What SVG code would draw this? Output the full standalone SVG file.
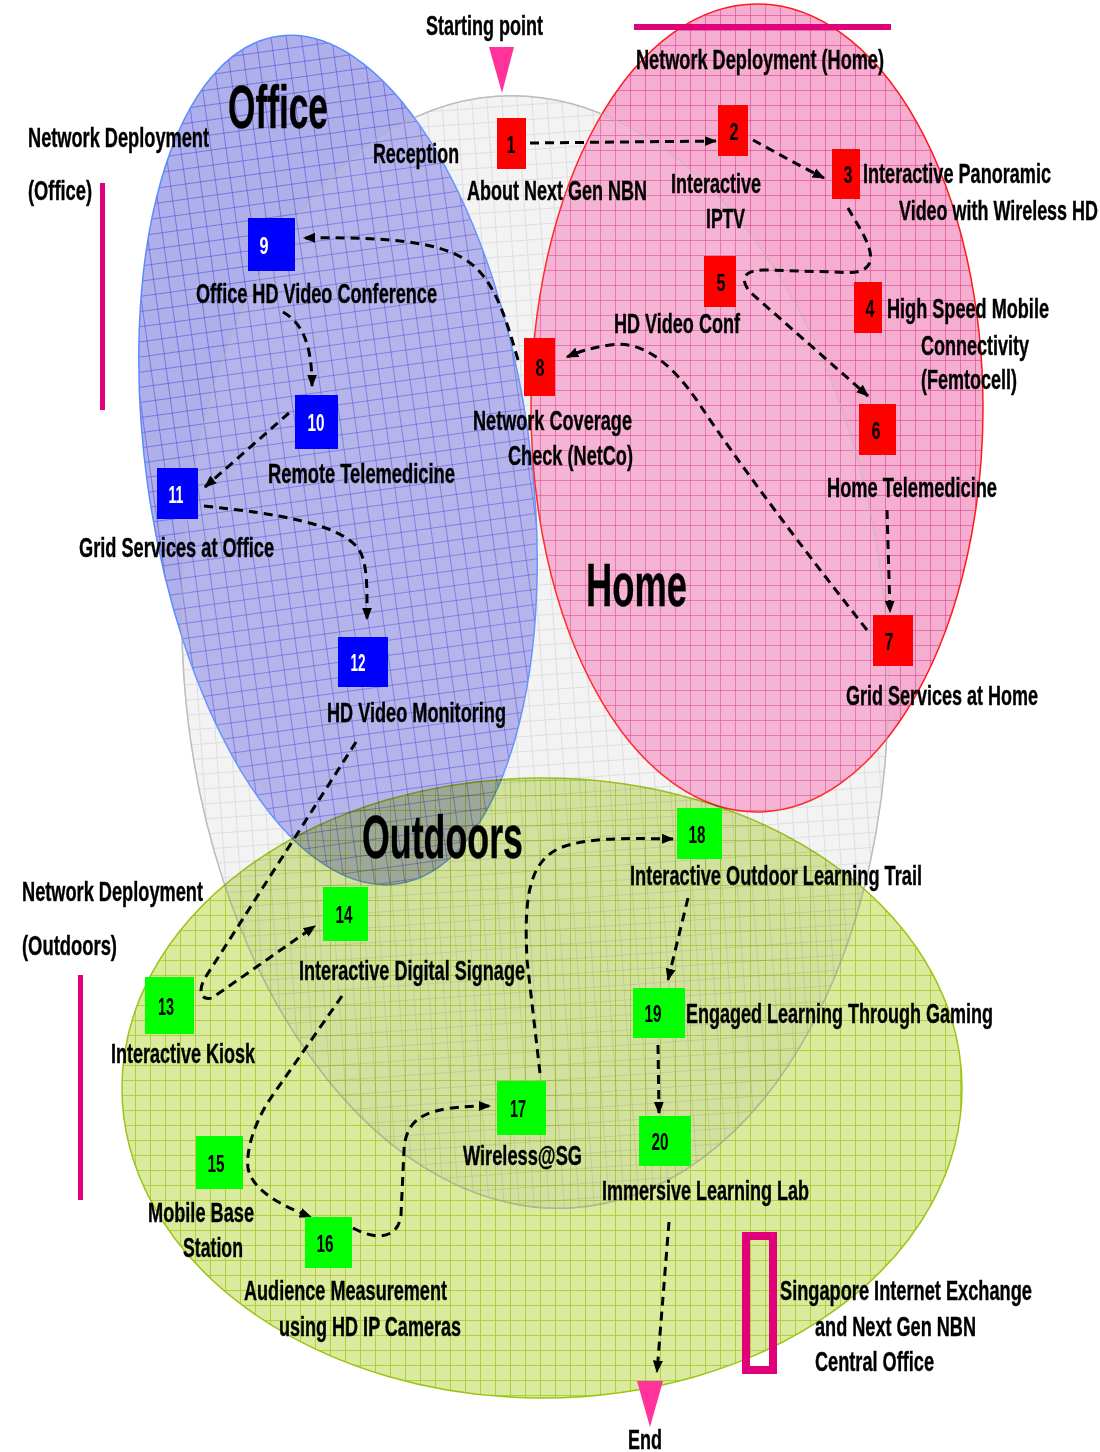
<svg xmlns="http://www.w3.org/2000/svg" width="1100" height="1452" viewBox="0 0 1100 1452">
<style>
.t{font-family:"Liberation Sans",Arial,sans-serif;font-weight:bold;font-size:28px;fill:#000;stroke:#000;stroke-width:0.4}
.big{font-size:62px}
.n{font-family:"Liberation Sans",Arial,sans-serif;font-weight:bold;font-size:24px;text-anchor:middle}
.nb{fill:#000}.nw{fill:#fff}
.red{fill:#ff0000}.blue{fill:#0000ff}.green{fill:#00ff00}
.c{fill:none;stroke:#000;stroke-width:3;stroke-dasharray:9 6;marker-end:url(#ah)}
.pk{fill:#e0007a}
.tri{fill:#ff3399}
</style>
<defs>
<pattern id="pGray" width="15" height="15" patternUnits="userSpaceOnUse"><rect width="15" height="15" fill="#f2f2f2"/><path d="M0 0.5H15M0.5 0V15" stroke="#dcdcdc" stroke-width="1"/></pattern>
<pattern id="pBlue" width="15" height="15" patternUnits="userSpaceOnUse"><rect width="15" height="15" fill="#afafeb"/><path d="M0 0.5H15M0.5 0V15" stroke="#4848d0" stroke-width="1" stroke-opacity="0.55"/></pattern>
<pattern id="pPink" width="15" height="15" patternUnits="userSpaceOnUse"><rect width="15" height="15" fill="#f5aed0"/><path d="M0 0.5H15M0.5 0V15" stroke="#e04090" stroke-width="1" stroke-opacity="0.6"/></pattern>
<pattern id="pGreen" width="15" height="15" patternUnits="userSpaceOnUse"><rect width="15" height="15" fill="#dbeb9e"/><path d="M0 0.5H15M0.5 0V15" stroke="#a8cc30" stroke-width="1" stroke-opacity="0.85"/></pattern>
<marker id="ah" viewBox="0 0 10 10" refX="9" refY="5" markerWidth="4.2" markerHeight="4.2" orient="auto"><path d="M0,1 L10,5 L0,9 z" fill="#000"/></marker>
</defs>
<rect width="1100" height="1452" fill="#fff"/>
<g id="zones">
<ellipse id="zone-reception" cx="535" cy="652" rx="352" ry="557" transform="rotate(-4 535 652)" fill="url(#pGray)" stroke="#c4c4c4" stroke-width="1.5"/>
<ellipse id="zone-office" cx="338" cy="460" rx="192" ry="428" transform="rotate(-8 338 460)" fill="url(#pBlue)" stroke="#5a8cff" stroke-width="1.5"/>
<ellipse id="zone-home" cx="757" cy="408" rx="226" ry="404" fill="url(#pPink)" stroke="#ff1a1a" stroke-width="1.5"/>
<ellipse id="zone-outdoors" cx="542" cy="1088" rx="420" ry="310" fill="url(#pGreen)" stroke="#9cc414" stroke-width="1.5" style="mix-blend-mode:multiply"/>
<ellipse cx="535" cy="652" rx="352" ry="557" transform="rotate(-4 535 652)" fill="#ffffff" fill-opacity="0.08" stroke="#b8b8b8" stroke-opacity="0.6" stroke-width="1.2"/>
</g>
<g id="markers-misc">
<rect class="pk" x="634" y="24" width="257" height="6"/>
<rect class="pk" x="100" y="183" width="5" height="227"/>
<rect class="pk" x="78" y="975" width="5" height="225"/>
<rect x="746" y="1236" width="27" height="134" fill="none" stroke="#e0007a" stroke-width="8"/>
<polygon class="tri" points="489,47 514,47 502,93"/>
<polygon class="tri" points="637,1381 663,1381 650,1427"/>
</g>
<g id="connectors">
<path class="c" d="M530,143 L716,141"/>
<path class="c" d="M753,140 C775,152 800,166 824,178"/>
<path class="c" d="M848,208 C858,226 874,248 870,262 C866,274 850,273 835,272 L765,270 C742,270 740,280 750,292 L868,396"/>
<path class="c" d="M887,510 L890,612"/>
<path class="c" d="M867,630 C800,545 740,465 700,405 C670,360 640,340 610,345 C590,348 578,352 567,357"/>
<path class="c" d="M518,360 C508,325 498,292 480,272 C458,248 420,236 304,238"/>
<path class="c" d="M283,312 C300,322 312,340 312,386"/>
<path class="c" d="M289,413 L205,487"/>
<path class="c" d="M204,506 C280,514 338,524 358,548 C368,562 367,590 367,619"/>
<path class="c" d="M356,742 L205,978 C198,990 200,1001 212,998 L315,926"/>
<path class="c" d="M342,996 L268,1102 C254,1125 246,1150 248,1168 C252,1190 280,1205 311,1217"/>
<path class="c" d="M353,1228 C375,1240 398,1240 401,1215 L404,1150 C406,1115 430,1106 490,1106"/>
<path class="c" d="M540,1073 L527,960 C524,900 528,862 560,848 C585,838 620,838 673,839"/>
<path class="c" d="M688,898 L668,980"/>
<path class="c" d="M658,1045 L659,1113"/>
<path class="c" d="M669,1222 L657,1372"/>
</g>
<g id="node-1"><rect class="red" x="497" y="118" width="29" height="51"/><text class="n nb" x="511" y="153" textLength="9" lengthAdjust="spacingAndGlyphs">1</text></g>
<g id="node-2"><rect class="red" x="718" y="105" width="30" height="51"/><text class="n nb" x="734" y="140" textLength="9" lengthAdjust="spacingAndGlyphs">2</text></g>
<g id="node-3"><rect class="red" x="832" y="149" width="28" height="50"/><text class="n nb" x="848" y="183" textLength="9" lengthAdjust="spacingAndGlyphs">3</text></g>
<g id="node-4"><rect class="red" x="854" y="282" width="28" height="51"/><text class="n nb" x="870" y="317" textLength="9" lengthAdjust="spacingAndGlyphs">4</text></g>
<g id="node-5"><rect class="red" x="704" y="256" width="32" height="51"/><text class="n nb" x="721" y="291" textLength="9" lengthAdjust="spacingAndGlyphs">5</text></g>
<g id="node-6"><rect class="red" x="859" y="404" width="37" height="51"/><text class="n nb" x="876" y="439" textLength="9" lengthAdjust="spacingAndGlyphs">6</text></g>
<g id="node-7"><rect class="red" x="873" y="615" width="40" height="51"/><text class="n nb" x="889" y="650" textLength="9" lengthAdjust="spacingAndGlyphs">7</text></g>
<g id="node-8"><rect class="red" x="524" y="338" width="31" height="58"/><text class="n nb" x="540" y="376" textLength="9" lengthAdjust="spacingAndGlyphs">8</text></g>
<g id="node-9"><rect class="blue" x="248" y="218" width="47" height="53"/><text class="n nw" x="264" y="254" textLength="9" lengthAdjust="spacingAndGlyphs">9</text></g>
<g id="node-10"><rect class="blue" x="295" y="395" width="43" height="54"/><text class="n nw" x="316" y="431" textLength="17" lengthAdjust="spacingAndGlyphs">10</text></g>
<g id="node-11"><rect class="blue" x="157" y="468" width="41" height="51"/><text class="n nw" x="176" y="503" textLength="15" lengthAdjust="spacingAndGlyphs">11</text></g>
<g id="node-12"><rect class="blue" x="338" y="637" width="50" height="50"/><text class="n nw" x="358" y="671" textLength="15" lengthAdjust="spacingAndGlyphs">12</text></g>
<g id="node-13"><rect class="green" x="145" y="977" width="49" height="57"/><text class="n nb" x="166" y="1015" textLength="16" lengthAdjust="spacingAndGlyphs">13</text></g>
<g id="node-14"><rect class="green" x="323" y="887" width="45" height="54"/><text class="n nb" x="344" y="923" textLength="17" lengthAdjust="spacingAndGlyphs">14</text></g>
<g id="node-15"><rect class="green" x="196" y="1136" width="47" height="53"/><text class="n nb" x="216" y="1172" textLength="17" lengthAdjust="spacingAndGlyphs">15</text></g>
<g id="node-16"><rect class="green" x="305" y="1217" width="47" height="51"/><text class="n nb" x="325" y="1252" textLength="17" lengthAdjust="spacingAndGlyphs">16</text></g>
<g id="node-17"><rect class="green" x="497" y="1081" width="49" height="54"/><text class="n nb" x="518" y="1117" textLength="16" lengthAdjust="spacingAndGlyphs">17</text></g>
<g id="node-18"><rect class="green" x="677" y="808" width="45" height="51"/><text class="n nb" x="697" y="843" textLength="17" lengthAdjust="spacingAndGlyphs">18</text></g>
<g id="node-19"><rect class="green" x="633" y="988" width="52" height="50"/><text class="n nb" x="653" y="1022" textLength="17" lengthAdjust="spacingAndGlyphs">19</text></g>
<g id="node-20"><rect class="green" x="639" y="1116" width="52" height="50"/><text class="n nb" x="660" y="1150" textLength="17" lengthAdjust="spacingAndGlyphs">20</text></g>
<g id="labels">
<text class="t" x="426" y="35" font-size="30" textLength="117" lengthAdjust="spacingAndGlyphs">Starting point</text>
<text class="t" x="636" y="69" textLength="248" lengthAdjust="spacingAndGlyphs">Network Deployment (Home)</text>
<text class="t big" x="228" y="128" textLength="100" lengthAdjust="spacingAndGlyphs">Office</text>
<text class="t" x="28" y="147" textLength="181" lengthAdjust="spacingAndGlyphs">Network Deployment</text>
<text class="t" x="28" y="200" textLength="64" lengthAdjust="spacingAndGlyphs">(Office)</text>
<text class="t" x="373" y="163" textLength="86" lengthAdjust="spacingAndGlyphs">Reception</text>
<text class="t" x="467" y="200" textLength="180" lengthAdjust="spacingAndGlyphs">About Next Gen NBN</text>
<text class="t" x="671" y="193" textLength="90" lengthAdjust="spacingAndGlyphs">Interactive</text>
<text class="t" x="706" y="228" textLength="39" lengthAdjust="spacingAndGlyphs">IPTV</text>
<text class="t" x="863" y="183" textLength="188" lengthAdjust="spacingAndGlyphs">Interactive Panoramic</text>
<text class="t" x="899" y="220" textLength="199" lengthAdjust="spacingAndGlyphs">Video with Wireless HD</text>
<text class="t" x="196" y="303" textLength="241" lengthAdjust="spacingAndGlyphs">Office HD Video Conference</text>
<text class="t" x="614" y="333" textLength="126" lengthAdjust="spacingAndGlyphs">HD Video Conf</text>
<text class="t" x="887" y="318" textLength="162" lengthAdjust="spacingAndGlyphs">High Speed Mobile</text>
<text class="t" x="921" y="355" textLength="108" lengthAdjust="spacingAndGlyphs">Connectivity</text>
<text class="t" x="921" y="389" textLength="96" lengthAdjust="spacingAndGlyphs">(Femtocell)</text>
<text class="t" x="473" y="430" textLength="159" lengthAdjust="spacingAndGlyphs">Network Coverage</text>
<text class="t" x="508" y="465" textLength="125" lengthAdjust="spacingAndGlyphs">Check (NetCo)</text>
<text class="t" x="268" y="483" textLength="187" lengthAdjust="spacingAndGlyphs">Remote Telemedicine</text>
<text class="t" x="79" y="557" textLength="195" lengthAdjust="spacingAndGlyphs">Grid Services at Office</text>
<text class="t big" x="586" y="606" textLength="101" lengthAdjust="spacingAndGlyphs">Home</text>
<text class="t" x="327" y="722" textLength="179" lengthAdjust="spacingAndGlyphs">HD Video Monitoring</text>
<text class="t" x="827" y="497" textLength="170" lengthAdjust="spacingAndGlyphs">Home Telemedicine</text>
<text class="t" x="846" y="705" textLength="192" lengthAdjust="spacingAndGlyphs">Grid Services at Home</text>
<text class="t big" x="362" y="858" textLength="161" lengthAdjust="spacingAndGlyphs">Outdoors</text>
<text class="t" x="630" y="885" textLength="292" lengthAdjust="spacingAndGlyphs">Interactive Outdoor Learning Trail</text>
<text class="t" x="22" y="901" textLength="181" lengthAdjust="spacingAndGlyphs">Network Deployment</text>
<text class="t" x="22" y="955" textLength="95" lengthAdjust="spacingAndGlyphs">(Outdoors)</text>
<text class="t" x="299" y="980" textLength="226" lengthAdjust="spacingAndGlyphs">Interactive Digital Signage</text>
<text class="t" x="686" y="1023" textLength="307" lengthAdjust="spacingAndGlyphs">Engaged Learning Through Gaming</text>
<text class="t" x="111" y="1063" textLength="144" lengthAdjust="spacingAndGlyphs">Interactive Kiosk</text>
<text class="t" x="463" y="1165" textLength="119" lengthAdjust="spacingAndGlyphs">Wireless@SG</text>
<text class="t" x="602" y="1200" textLength="207" lengthAdjust="spacingAndGlyphs">Immersive Learning Lab</text>
<text class="t" x="148" y="1222" textLength="106" lengthAdjust="spacingAndGlyphs">Mobile Base</text>
<text class="t" x="183" y="1257" textLength="60" lengthAdjust="spacingAndGlyphs">Station</text>
<text class="t" x="244" y="1300" textLength="203" lengthAdjust="spacingAndGlyphs">Audience Measurement</text>
<text class="t" x="279" y="1336" textLength="182" lengthAdjust="spacingAndGlyphs">using HD IP Cameras</text>
<text class="t" x="780" y="1300" textLength="252" lengthAdjust="spacingAndGlyphs">Singapore Internet Exchange</text>
<text class="t" x="815" y="1336" textLength="161" lengthAdjust="spacingAndGlyphs">and Next Gen NBN</text>
<text class="t" x="815" y="1371" textLength="119" lengthAdjust="spacingAndGlyphs">Central Office</text>
<text class="t" x="628" y="1449" textLength="34" lengthAdjust="spacingAndGlyphs">End</text>
</g>
</svg>
